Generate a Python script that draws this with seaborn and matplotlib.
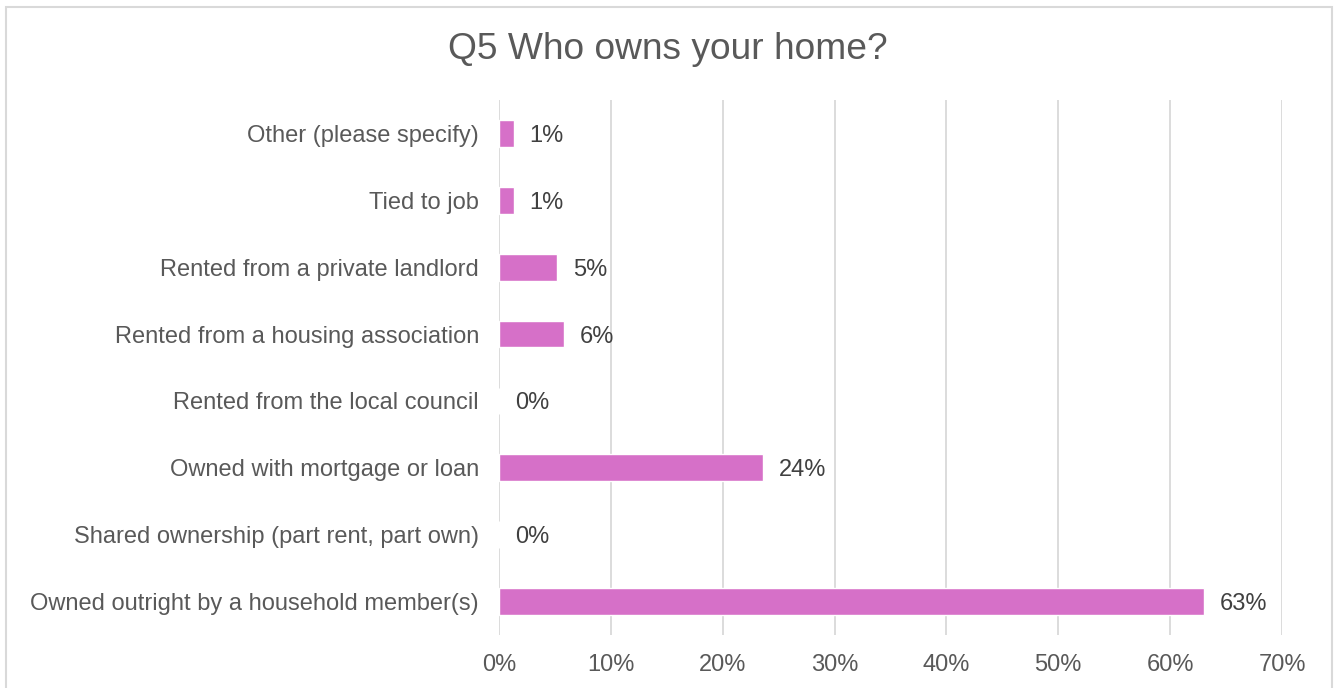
import matplotlib
matplotlib.use("Agg")
import matplotlib.pyplot as plt
from matplotlib.patches import Rectangle
import seaborn as sns
import pandas as pd

categories = [
    "Other (please specify)",
    "Tied to job",
    "Rented from a private landlord",
    "Rented from a housing association",
    "Rented from the local council",
    "Owned with mortgage or loan",
    "Shared ownership (part rent, part own)",
    "Owned outright by a household member(s)",
]
values = [1.3, 1.3, 5.2, 5.8, 0.0, 23.6, 0.0, 63.0]
tick_values = [0, 10, 20, 30, 40, 50, 60, 70]
tick_labels = [f"{v}%" for v in tick_values]

df = pd.DataFrame({"category": categories, "value": values})

sns.set_theme(style="white")
plt.rcParams["font.family"] = ["Liberation Sans", "DejaVu Sans"]

fig = plt.figure(figsize=(13.35, 6.88), dpi=100)
ax = fig.add_axes([0.3738, 0.077, 0.5865, 0.7777])

sns.barplot(data=df, x="value", y="category", orient="h", color="#D670C8",
            saturation=1, width=0.4, ax=ax, order=categories)

ax.set_xlim(0, 70)
ax.set_ylim(7.5, -0.5)
ax.set_xticks(tick_values)
ax.set_xticklabels(tick_labels)
ax.xaxis.grid(True, color="#D9D9D9", linewidth=1.3)
ax.set_axisbelow(True)
for s in ax.spines.values():
    s.set_visible(False)
ax.tick_params(axis="both", length=0, colors="#595959", labelsize=17)
ax.tick_params(axis="x", pad=14)
ax.tick_params(axis="y", pad=14.5)
ax.set_xlabel("")
ax.set_ylabel("")

for i, v in enumerate(values):
    ax.text(v + 1.4, i, f"{v:.0f}%", va="center_baseline", ha="left",
            fontsize=17, color="#404040")

fig.text(0.5, 0.928, "Q5 Who owns your home?", ha="center", va="center",
         fontsize=26.7, color="#595959")

fig.patches.append(Rectangle((0.0045, -0.01), 0.9935, 1.0, transform=fig.transFigure,
                             fill=False, edgecolor="#D9D9D9", linewidth=1.5))

fig.savefig("out.png", dpi=100)
